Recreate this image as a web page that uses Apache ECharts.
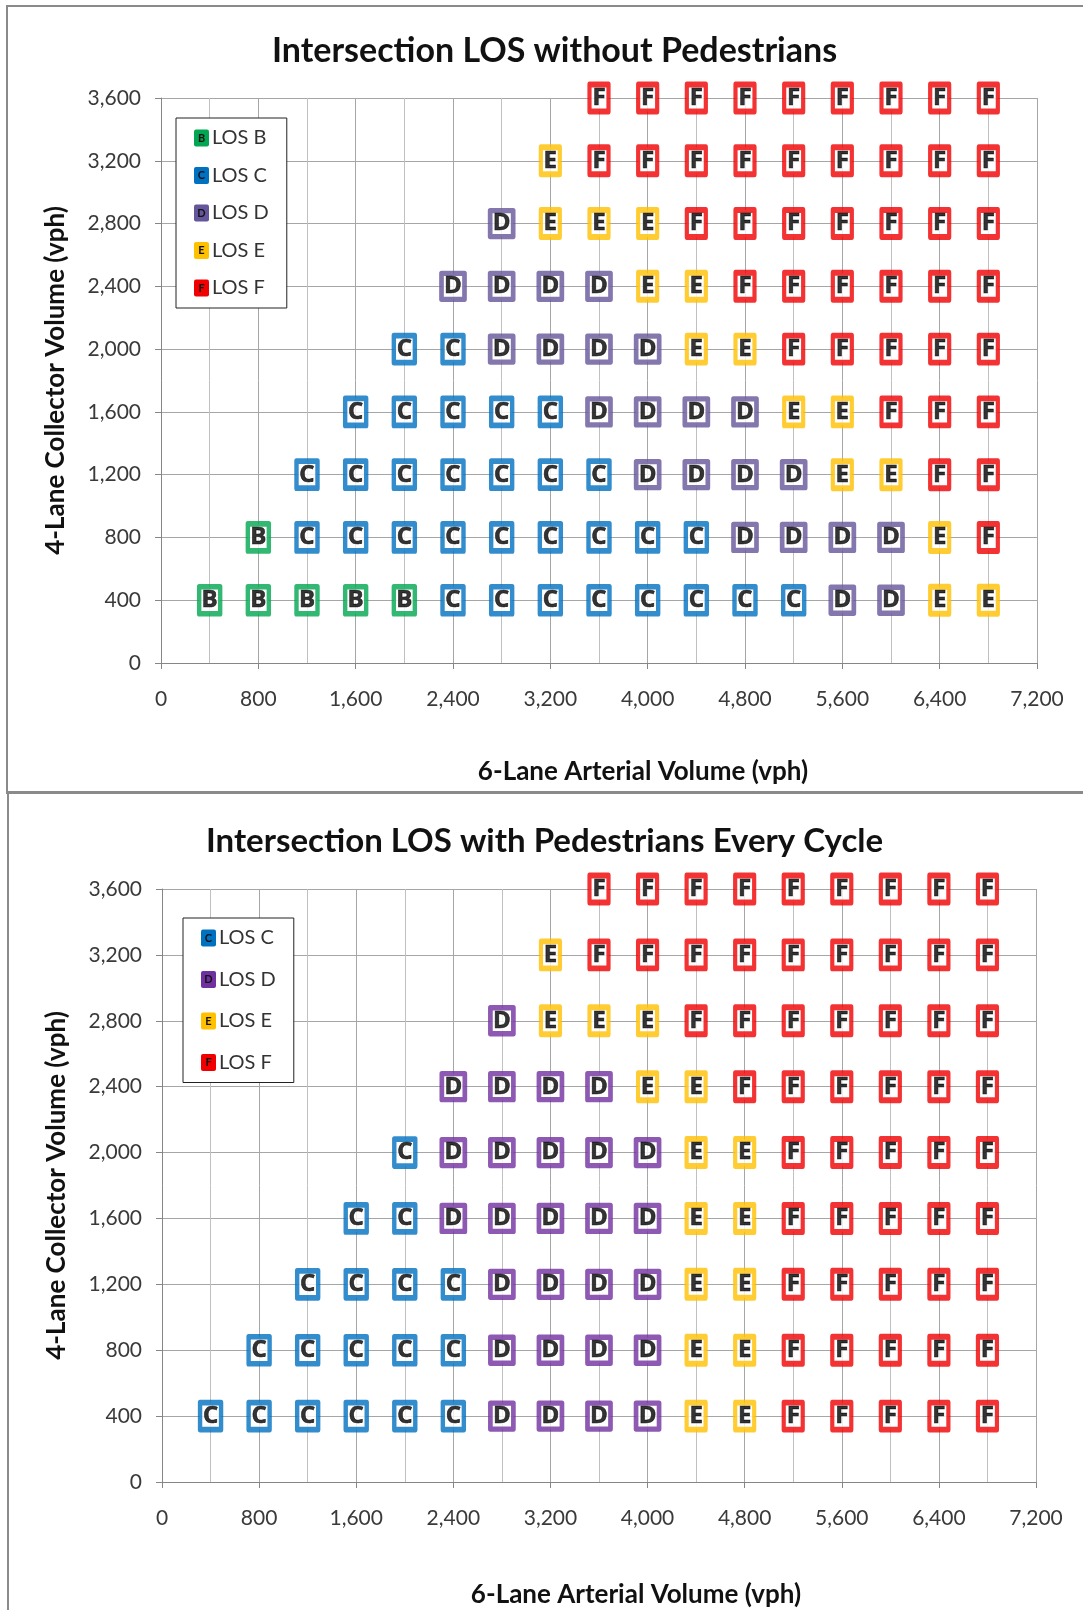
<!DOCTYPE html>
<html>
<head>
<meta charset="utf-8">
<script src="https://cdn.jsdelivr.net/npm/echarts@6/dist/echarts.min.js"></script>
<style>
html, body { margin: 0; padding: 0; background: #fff; }
#main { position: absolute; left: 0; top: 0; width: 1083px; height: 1610px; }
.rule { position: absolute; background: #8a8a8a; }
</style>
</head>
<body>
<div class="rule" style="left:6px;top:5px;width:1077px;height:2px"></div>
<div class="rule" style="left:6px;top:5px;width:2px;height:788px"></div>
<div class="rule" style="left:6px;top:791px;width:1077px;height:3px"></div>
<div class="rule" style="left:7px;top:794px;width:2px;height:816px"></div>
<div id="main"></div>
<script>
// arterial volume (x) of each column, collector volume (y) of each row
var arterialVol = [400, 800, 1200, 1600, 2000, 2400, 2800, 3200, 3600, 4000, 4400, 4800, 5200, 5600, 6000, 6400, 6800];
var collectorVol = [400, 800, 1200, 1600, 2000, 2400, 2800, 3200, 3600];

// one string per collector row (bottom row first), one LOS letter per arterial column, '-' = no point
var losNoPed = [
    'BBBBBCCCCCCCCDDEE',
    '-BCCCCCCCCCDDDDEF',
    '--CCCCCCCDDDDEEFF',
    '---CCCCCDDDDEEFFF',
    '----CCDDDDEEFFFFF',
    '-----DDDDEEFFFFFF',
    '------DEEEFFFFFFF',
    '-------EFFFFFFFFF',
    '--------FFFFFFFFF'
];
var losPed = [
    'CCCCCCDDDDEEFFFFF',
    '-CCCCCDDDDEEFFFFF',
    '--CCCCDDDDEEFFFFF',
    '---CCDDDDDEEFFFFF',
    '----CDDDDDEEFFFFF',
    '-----DDDDEEFFFFFF',
    '------DEEEFFFFFFF',
    '-------EFFFFFFFFF',
    '--------FFFFFFFFF'
];

var legendNoPed = ['B', 'C', 'D', 'E', 'F'];
var legendPed = ['C', 'D', 'E', 'F'];

var colorsNoPed = { B: '#00a651', C: '#0070c0', D: '#65559a', E: '#ffc000', F: '#f00000' };
var colorsPed = { C: '#0070c0', D: '#7030a0', E: '#ffc000', F: '#f00000' };

// box size (centre of the border) for each letter
var boxSize = { B: [21, 27], C: [21, 27], D: [23, 26], E: [19, 27], F: [19, 27] };

var FONT = 'Lato';

function fmt(v) {
    return Number(v).toLocaleString('en-US');
}

function buildSeries(rows, colors, letters, idx) {
    return letters.map(function (letter) {
        var data = [];
        rows.forEach(function (row, r) {
            for (var c = 0; c < row.length; c++) {
                if (row.charAt(c) === letter)
                    data.push([arterialVol[c], collectorVol[r]]);
            }
        });
        return {
            type: 'scatter',
            name: 'LOS ' + letter,
            xAxisIndex: idx,
            yAxisIndex: idx,
            data: data,
            symbol: 'rect',
            symbolSize: boxSize[letter],
            itemStyle: {
                color: '#fff',
                borderColor: colors[letter],
                borderWidth: 5,
                borderJoin: 'round'
            },
            label: {
                show: true,
                position: 'inside',
                formatter: letter,
                fontFamily: 'Open Sans',
                fontWeight: 'bold',
                fontSize: 24,
                color: '#000',
                textBorderColor: '#000',
                textBorderWidth: 0.6
            },
            emphasis: { disabled: true },
            z: 5
        };
    });
}

function buildLegend(letters, colors, left, top, gap) {
    var rich = {
        t: { fontFamily: FONT, fontSize: 20, color: '#333', lineHeight: 20, padding: [0, 0, 0, 3] }
    };
    letters.forEach(function (l) {
        rich[l] = {
            backgroundColor: colors[l],
            color: '#111',
            fontFamily: FONT,
            fontWeight: 'bold',
            fontSize: 11,
            width: 15,
            height: 17,
            align: 'center',
            borderRadius: 2
        };
    });
    return {
        orient: 'vertical',
        left: left,
        top: top,
        icon: 'none',
        itemWidth: 0,
        itemHeight: 20,
        itemGap: gap,
        padding: [10, 18, 10, 13],
        backgroundColor: '#fff',
        borderColor: '#222',
        borderWidth: 1,
        borderRadius: 0,
        selectedMode: false,
        data: letters.map(function (l) { return 'LOS ' + l; }),
        formatter: function (name) {
            var l = name.slice(-1);
            return '{' + l + '|' + l + '}{t|' + name + '}';
        },
        textStyle: { rich: rich }
    };
}

function buildX(idx, nameGap, shift) {
    return {
        type: 'value',
        gridIndex: idx,
        min: 0,
        max: 7200,
        interval: 800,
        name: '6-Lane Arterial Volume (vph)',
        nameLocation: 'middle',
        nameGap: nameGap,
        nameTextStyle: {
            fontFamily: FONT, fontWeight: 'bold', fontSize: 26, color: '#111',
            padding: [0, 0, 0, shift]
        },
        axisLine: { show: true, onZero: false, lineStyle: { color: '#868686' } },
        axisTick: { show: true, length: 6, lineStyle: { color: '#868686' } },
        axisLabel: {
            margin: 26, fontFamily: FONT, fontSize: 21, color: '#3a3a3a',
            formatter: fmt
        },
        splitLine: { show: true, lineStyle: { color: '#a6a6a6' } },
        minorTick: { show: false, splitNumber: 2 },
        minorSplitLine: { show: true, lineStyle: { color: '#c0c0c0' } }
    };
}

function buildY(idx, nameGap) {
    return {
        type: 'value',
        gridIndex: idx,
        min: 0,
        max: 3600,
        interval: 400,
        name: '4-Lane Collector Volume (vph)',
        nameLocation: 'middle',
        nameGap: nameGap,
        nameTextStyle: { fontFamily: FONT, fontWeight: 'bold', fontSize: 26, color: '#111' },
        axisLine: { show: true, onZero: false, lineStyle: { color: '#868686' } },
        axisTick: { show: true, length: 6, lineStyle: { color: '#868686' } },
        axisLabel: {
            margin: 20, fontFamily: FONT, fontSize: 21, color: '#3a3a3a',
            formatter: fmt
        },
        splitLine: { show: true, lineStyle: { color: '#a6a6a6' } }
    };
}

var chart = echarts.init(document.getElementById('main'), null, { renderer: 'canvas' });

var titleStyle = { fontFamily: FONT, fontWeight: 'bold', fontSize: 34, color: '#111' };

var option = {
    animation: false,
    backgroundColor: 'transparent',
    title: [
        { text: 'Intersection LOS without Pedestrians', left: 267, top: 29, textStyle: titleStyle },
        {
            text: 'Intersection LOS with Pedestrians Every Cycle', left: 201, top: 820,
            textStyle: { fontFamily: FONT, fontWeight: 'bold', fontSize: 33, color: '#111' }
        }
    ],
    legend: [
        buildLegend(legendNoPed, colorsNoPed, 176, 118, 17.5),
        buildLegend(legendPed, colorsPed, 183, 918, 21.5)
    ],
    grid: [
        { left: 161, top: 98, width: 876, height: 565, outerBoundsMode: 'none', containLabel: false },
        { left: 162, top: 889, width: 874, height: 593, outerBoundsMode: 'none', containLabel: false }
    ],
    xAxis: [buildX(0, 96, 88), buildX(1, 100, 74)],
    yAxis: [buildY(0, 92), buildY(1, 92)],
    series: buildSeries(losNoPed, colorsNoPed, legendNoPed, 0)
        .concat(buildSeries(losPed, colorsPed, legendPed, 1))
};

chart.setOption(option);
</script>
</body>
</html>
